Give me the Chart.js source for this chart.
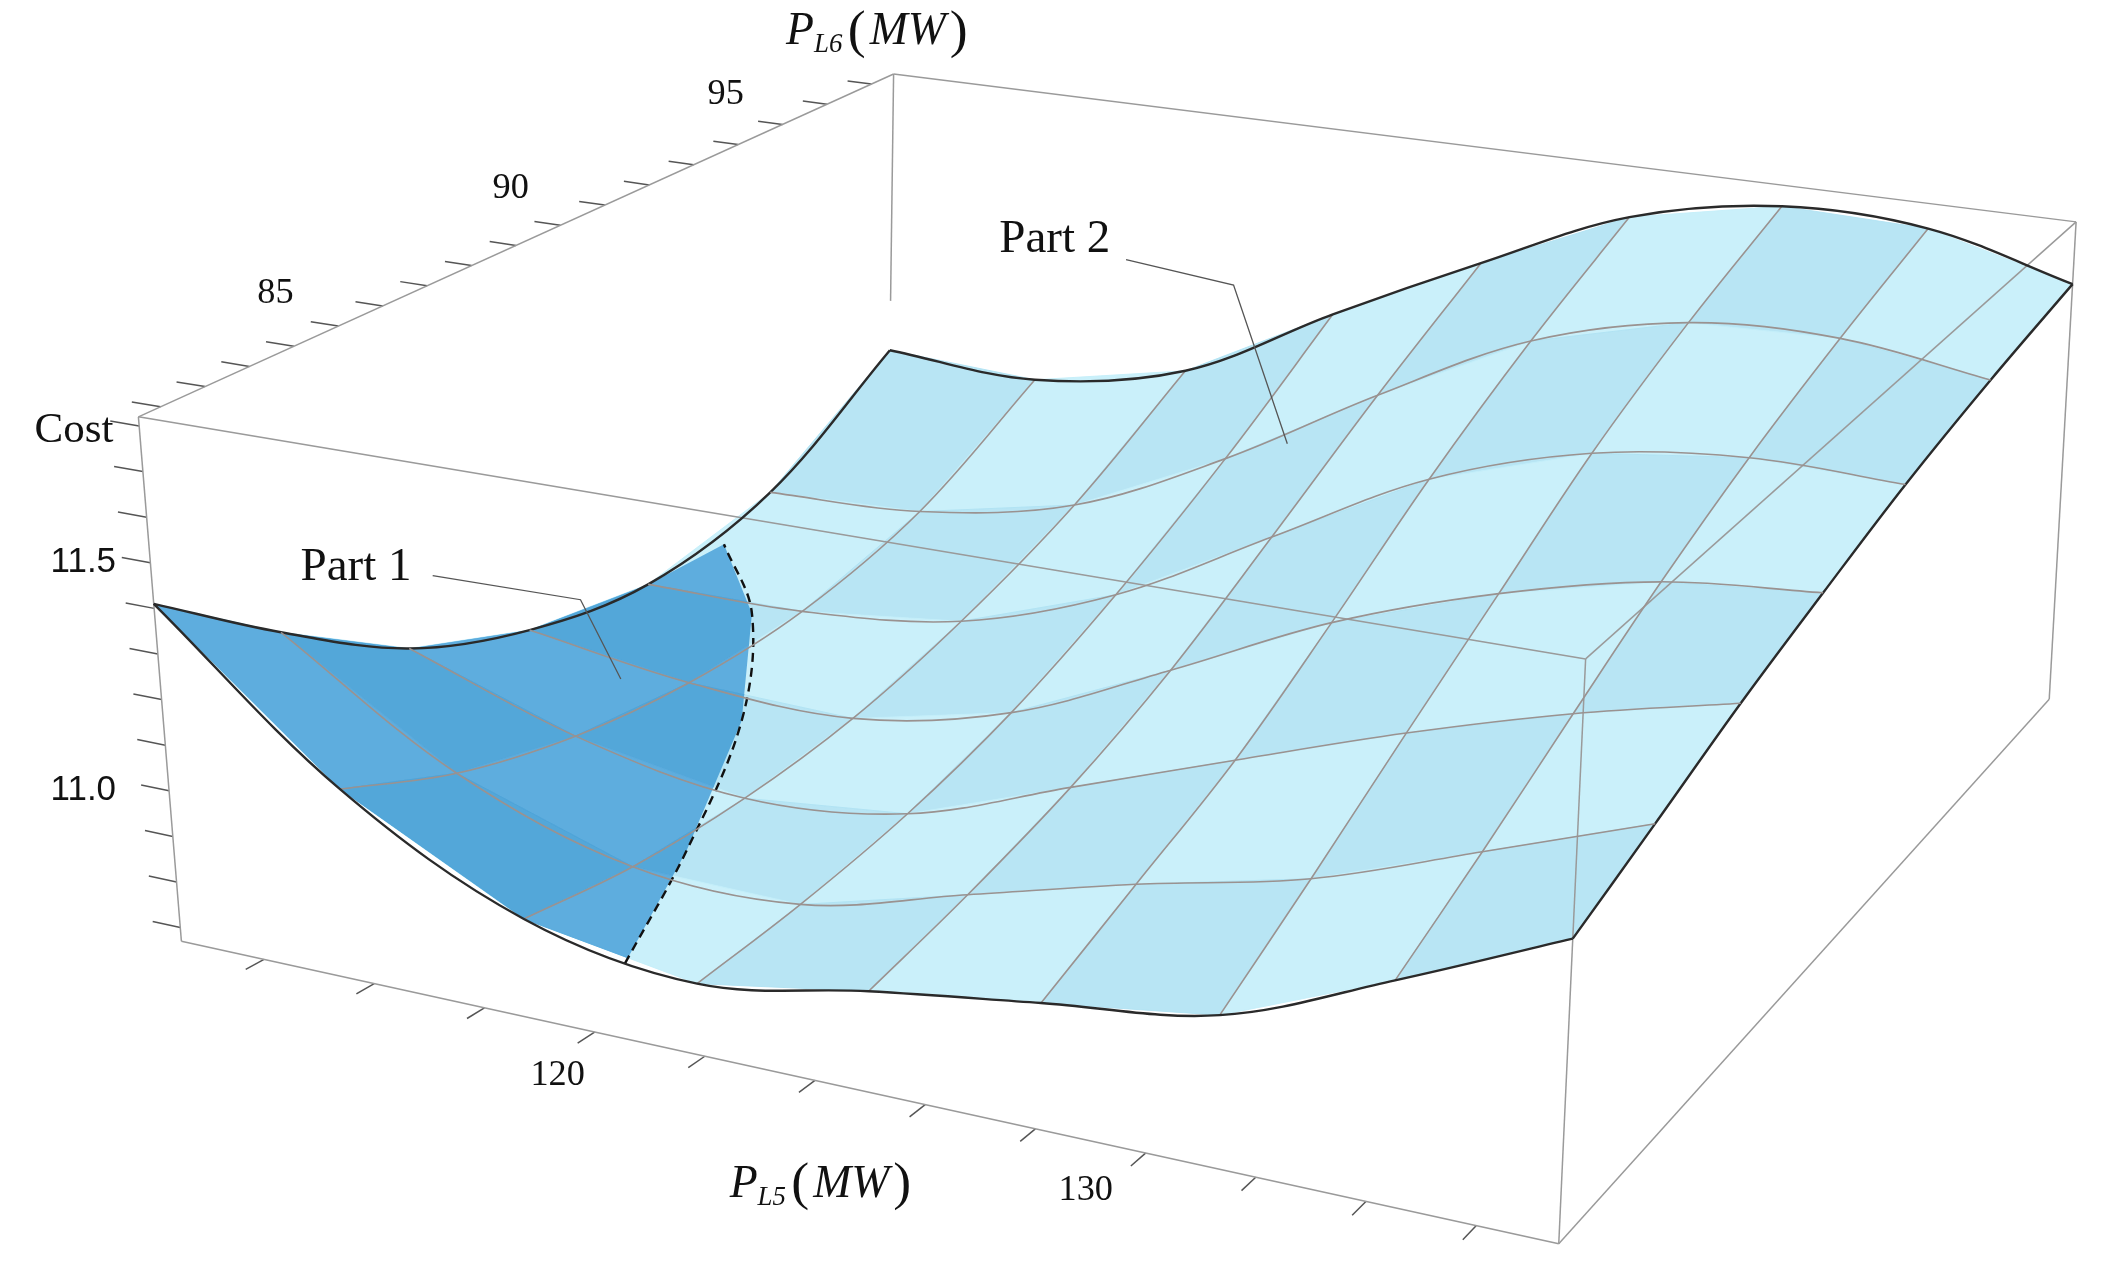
<!DOCTYPE html>
<html><head><meta charset="utf-8">
<script src="https://cdn.jsdelivr.net/npm/chart.js@4/dist/chart.umd.min.js"></script>
<style>html,body{margin:0;padding:0;background:#fff}#wrap{width:2107px;height:1264px}</style>
</head><body><div id="wrap"><canvas id="c"></canvas></div>
<script>
// ---- data ----
const P5 = [112.5,115.6,118.8,121.9,125,128.1,131.3,134.4,137.5];      // P_L5 (MW)
const P6 = [80.5,83.3,86.2,89,91.8,94.7,97.5];                         // P_L6 (MW)
const COST = [
 [11.41,11.08,10.88,10.82,10.88,10.93,10.98,11.12,11.27],
 [11.22,10.98,10.85,10.84,10.93,11.02,11.10,11.22,11.34],
 [11.05,10.92,10.85,10.88,11.00,11.12,11.24,11.34,11.42],
 [10.96,10.90,10.88,10.95,11.10,11.26,11.38,11.46,11.49],
 [10.93,10.92,10.95,11.06,11.24,11.42,11.53,11.57,11.56],
 [11.00,11.00,11.06,11.21,11.40,11.57,11.66,11.67,11.62],
 [11.19,11.16,11.22,11.39,11.55,11.70,11.77,11.76,11.67]
];
const BOUNDARY = [[120.6,80.5,10.83],[119.3,84,10.86],[117.4,88,10.90],[115,91.3,10.93],[112.5,93.6,10.935]];
const P5_TICKS = [114,116,118,120,122,124,126,128,130,132,134,136];
const P5_LABELS = [120,130];
const P6_TICKS = [81,82,83,84,85,86,87,88,89,90,91,92,93,94,95,96,97];
const P6_LABELS = [85,90,95];
const COST_TICKS = [10.7,10.8,10.9,11.0,11.1,11.2,11.3,11.4,11.5,11.6,11.7,11.8];
const COST_LABELS = ['11.0','11.5'];

// ---- projection (box corners in reference pixel space) ----
const R5=[112.5,137.5], R6=[80.5,97.5], RC=[10.67,11.82];
const K={ '000':[135,700],'100':[1160,925],'010':[660,430],'110':[1525,520],
          '001':[103,310],'101':[1180,490],'011':[665,55],'111':[1545,165]};
function proj(p5,p6,c){
  const u=(p5-R5[0])/(R5[1]-R5[0]), v=(p6-R6[0])/(R6[1]-R6[0]), w=(c-RC[0])/(RC[1]-RC[0]);
  let x=0,y=0;
  for(const a of [0,1])for(const b of [0,1])for(const d of [0,1]){
    const f=(a?u:1-u)*(b?v:1-v)*(d?w:1-w); const p=K[''+a+b+d]; x+=f*p[0]; y+=f*p[1];}
  return {x,y};
}
const ds=[];
function line(pts,o){ds.push(Object.assign({data:pts,showLine:true,pointRadius:0,borderColor:'#9a9290',borderWidth:1.6,tension:0.35,fill:false},o));}
COST.forEach((row,i)=>{const outer=i===0||i===COST.length-1;
  line(row.map((c,j)=>proj(P5[j],P6[i],c)),outer?{borderColor:'#2a2a2a',borderWidth:2.4}:{});});
P5.forEach((p,j)=>{const outer=j===0||j===P5.length-1;
  line(P6.map((q,i)=>proj(p,q,COST[i][j])),outer?{borderColor:'#2a2a2a',borderWidth:2.4}:{});});
line(BOUNDARY.map(b=>proj(b[0],b[1],b[2])),{borderColor:'#111',borderWidth:2.4,borderDash:[9,6]});
const E=[[[0,0,0],[1,0,0]],[[0,0,1],[1,0,1]],[[0,1,1],[1,1,1]],[[1,1,0],[1,1,1]],
 [[0,0,0],[0,0,1]],[[1,0,0],[1,0,1]],[[0,1,1],[0,1,0.55]],[[0,0,1],[0,1,1]],[[1,0,1],[1,1,1]],[[1,0,0],[1,1,0]]];
function corner(t){return proj(R5[0]+t[0]*(R5[1]-R5[0]),R6[0]+t[1]*(R6[1]-R6[0]),RC[0]+t[2]*(RC[1]-RC[0]));}
E.forEach(e=>line([corner(e[0]),corner(e[1])],{borderColor:'#9a9a9a',borderWidth:1.5,tension:0}));
P5_TICKS.forEach(t=>line([proj(t,R6[0],RC[0]),proj(t,R6[0]-0.45,RC[0])],{borderColor:'#555',tension:0,borderWidth:1.5}));
P6_TICKS.forEach(t=>line([proj(R5[0],t,RC[1]),proj(R5[0]-0.5,t,RC[1])],{borderColor:'#555',tension:0,borderWidth:1.5}));
COST_TICKS.forEach(t=>line([proj(R5[0],R6[0],t),proj(R5[0]-0.5,R6[0],t)],{borderColor:'#555',tension:0,borderWidth:1.5}));

const surf={id:'surf',beforeDatasetsDraw(ch){
  const c=ch.ctx,X=ch.scales.x,Y=ch.scales.y;
  const px=p=>[X.getPixelForValue(p.x),Y.getPixelForValue(p.y)];
  function cells(dark){
    for(let i=COST.length-2;i>=0;i--)for(let j=0;j<P5.length-1;j++){
      const q=[proj(P5[j],P6[i],COST[i][j]),proj(P5[j+1],P6[i],COST[i][j+1]),proj(P5[j+1],P6[i+1],COST[i+1][j+1]),proj(P5[j],P6[i+1],COST[i+1][j])].map(px);
      const col=dark?((i+j)%2?'rgba(78,163,216,0.95)':'rgba(88,170,220,0.95)'):((i+j)%2?'rgba(176,226,243,0.9)':'rgba(196,238,249,0.9)');
      c.beginPath();q.forEach((p,k)=>k?c.lineTo(p[0],p[1]):c.moveTo(p[0],p[1]));c.closePath();
      c.fillStyle=col;c.strokeStyle=col;c.lineWidth=1;c.fill();c.stroke();}
  }
  cells(false);
  // clip to Part 1 region: u=0 edge, dashed boundary, front edge
  const poly=[];
  P6.forEach((q,i)=>{if(q<BOUNDARY[BOUNDARY.length-1][1])poly.push(proj(P5[0],q,COST[i][0]));});
  BOUNDARY.slice().reverse().forEach(b=>poly.push(proj(b[0],b[1],b[2])));
  for(let j=P5.length-1;j>=0;j--)if(P5[j]<BOUNDARY[0][0])poly.push(proj(P5[j],P6[0],COST[0][j]));
  c.save();c.beginPath();poly.map(px).forEach((p,k)=>k?c.lineTo(p[0],p[1]):c.moveTo(p[0],p[1]));
  c.lineTo(px(proj(P5[0],P6[0],COST[0][0]))[0]-40,px(proj(P5[0],P6[0],COST[0][0]))[1]);
  c.lineTo(0,1264);c.lineTo(px(poly[BOUNDARY.length+poly.length-BOUNDARY.length-1])[0],1264);
  c.closePath();c.clip();
  // mild: only within surface, so redraw cells dark
  cells(true);c.restore();
}};
const txt={id:'txt',afterDatasetsDraw(ch){
  const c=ch.ctx,X=ch.scales.x,Y=ch.scales.y,s=2107/1568;
  const P=(x,y)=>[X.getPixelForValue(x),Y.getPixelForValue(y)];
  function T(t,x,y,font,al){const p=P(x,y);c.font=font;c.fillStyle='#111';c.textAlign=al||'center';c.textBaseline='middle';c.fillText(t,p[0],p[1]);}
  const serif=n=>(n*s)+'px "Liberation Serif"';
  T('Cost',55,320,serif(32));
  const cl=[588,418];COST_LABELS.forEach((t,i)=>T(t,62,cl[i],(26*s)+'px "Liberation Sans"'));
  const p6p=[[205,218],[380,140],[540,70]];P6_LABELS.forEach((t,i)=>T(String(t),p6p[i][0],p6p[i][1],serif(27)));
  const p5p=[[415,800],[808,885]];P5_LABELS.forEach((t,i)=>T(String(t),p5p[i][0],p5p[i][1],serif(27)));
  function axis(x,y,sub){const p=P(x,y);c.textAlign='left';c.textBaseline='alphabetic';c.fillStyle='#111';
    c.font='italic '+serif(34);c.fillText('P',p[0],p[1]);let w=c.measureText('P').width;
    c.font='italic '+serif(20);c.fillText(sub,p[0]+w,p[1]+6*s);w+=c.measureText(sub).width+4*s;
    c.font=serif(40);c.fillText('(',p[0]+w,p[1]+2*s);w+=c.measureText('(').width+3*s;
    c.font='italic '+serif(34);c.fillText('MW',p[0]+w,p[1]);w+=c.measureText('MW').width+3*s;
    c.font=serif(40);c.fillText(')',p[0]+w,p[1]+2*s);}
  axis(543,890,'L5');axis(585,33,'L6');
  T('Part 1',265,422,serif(35));T('Part 2',785,178,serif(35));
  c.strokeStyle='#555';c.lineWidth=1.3;
  [[[322,428],[432,446],[462,505]],[[838,193],[918,212],[958,330]]].forEach(L=>{c.beginPath();L.forEach((q,k)=>{const p=P(q[0],q[1]);k?c.lineTo(p[0],p[1]):c.moveTo(p[0],p[1]);});c.stroke();});
}};
new Chart(document.getElementById('c'),{type:'scatter',data:{datasets:ds},plugins:[surf,txt],
 options:{responsive:true,maintainAspectRatio:false,animation:false,layout:{padding:0},
  plugins:{legend:{display:false},tooltip:{enabled:false}},
  scales:{x:{type:'linear',min:0,max:1568,display:false},y:{type:'linear',min:0,max:940,reverse:true,display:false}}}});
</script></body></html>
